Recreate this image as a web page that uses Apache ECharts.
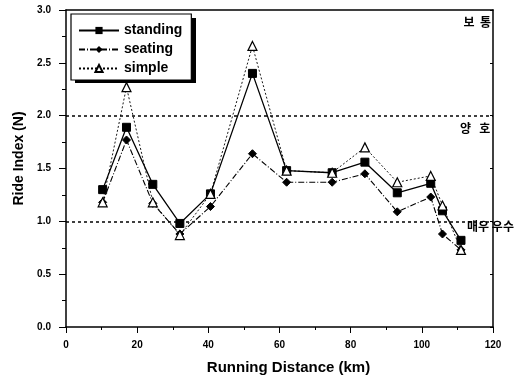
<!DOCTYPE html>
<html><head><meta charset="utf-8">
<script src="https://cdn.jsdelivr.net/npm/echarts@6/dist/echarts.min.js"></script>
<style>html,body{margin:0;padding:0;background:#fff}#c{width:524px;height:380px}</style>
</head><body><div id="c"></div>
<script>
const distance = [10.3, 17.0, 24.4, 32.0, 40.6, 52.4, 62.0, 74.8, 84.0, 93.1, 102.5, 105.8, 111.0];
const standing = [1.30, 1.89, 1.35, 0.98, 1.26, 2.40, 1.48, 1.46, 1.56, 1.27, 1.36, 1.10, 0.82];
const seating  = [1.18, 1.77, 1.17, 0.88, 1.14, 1.64, 1.37, 1.37, 1.45, 1.09, 1.23, 0.88, 0.73];
const simple   = [1.18, 2.27, 1.18, 0.87, 1.26, 2.66, 1.48, 1.46, 1.70, 1.37, 1.43, 1.15, 0.73];
const seriesNames = ['standing', 'seating', 'simple'];
const thresholds = [2.0, 1.0];
const zoneLabels = [
  {text: '보  통', x: 115.6, y: 2.88},
  {text: '양   호', x: 115.0, y: 1.88},
  {text: '매우 우수', x: 119.3, y: 0.95}
];
const pair = arr => arr.map((v, i) => [distance[i], v]);
const font = 'Liberation Sans, Arial, sans-serif';
const chart = echarts.init(document.getElementById('c'));
chart.setOption({
  animation: false,
  backgroundColor: '#fff',
  grid: {left: 66, right: 31, top: 10, bottom: 52, show: false},
  graphic: [{
    type: 'rect', left: 75, top: 18, z: 90, silent: true,
    shape: {width: 121, height: 65}, style: {fill: '#000'}
  }],
  legend: {
    orient: 'vertical', left: 71, top: 14, padding: [8, 9, 3, 7], itemGap: 2,
    itemWidth: 40, itemHeight: 9, itemTextGap: 5, z: 100,
    backgroundColor: '#fff', borderColor: '#000', borderWidth: 1.2,
    textStyle: {fontFamily: font, fontSize: 14, fontWeight: 'bold', color: '#000', lineHeight: 17},
    data: seriesNames
  },
  xAxis: [{
    type: 'value', min: 0, max: 120, interval: 20,
    name: 'Running Distance (km)', nameLocation: 'middle', nameGap: 33,
    nameTextStyle: {fontFamily: font, fontWeight: 'bold', fontSize: 15, color: '#000', padding: [0, 0, 0, 18]},
    axisLine: {lineStyle: {color: '#000', width: 1.5}},
    axisTick: {inside: false, length: 6, lineStyle: {color: '#000'}},
    minorTick: {show: true, splitNumber: 2, length: 3, lineStyle: {color: '#000'}},
    axisLabel: {fontFamily: font, fontWeight: 'bold', fontSize: 10, color: '#000', margin: 13},
    splitLine: {show: false}
  }, {
    type: 'value', min: 0, max: 120, interval: 20, position: 'top',
    axisLine: {onZero: false, lineStyle: {color: '#000', width: 1.5}},
    axisTick: {show: false}, axisLabel: {show: false}, splitLine: {show: false}
  }],
  yAxis: [{
    type: 'value', min: 0, max: 3, interval: 0.5,
    name: 'Ride Index (N)', nameLocation: 'middle', nameGap: 31,
    nameTextStyle: {fontFamily: font, fontWeight: 'bold', fontSize: 14, color: '#000', padding: [0, 0, 0, 20]},
    axisLine: {show: true, lineStyle: {color: '#000', width: 1.5}},
    axisTick: {show: true, inside: false, length: 7, lineStyle: {color: '#000'}},
    minorTick: {show: true, splitNumber: 2, length: 4, lineStyle: {color: '#000'}},
    axisLabel: {fontFamily: font, fontWeight: 'bold', fontSize: 10, color: '#000', margin: 15,
      formatter: v => v.toFixed(1)},
    splitLine: {show: false}
  }, {
    type: 'value', min: 0, max: 3, interval: 0.5, position: 'right',
    axisLine: {show: true, onZero: false, lineStyle: {color: '#000', width: 1.5}},
    axisTick: {show: true, inside: true, length: 3, lineStyle: {color: '#000'}},
    axisLabel: {show: false}, splitLine: {show: false}
  }],
  series: [
    {
      name: 'standing', type: 'line', data: pair(standing),
      symbol: 'rect', symbolSize: 8,
      lineStyle: {color: '#000', width: 1.3, type: 'solid'},
      itemStyle: {color: '#000', borderColor: '#000'},
      markLine: {
        silent: true, symbol: ['none', 'none'], label: {show: false},
        lineStyle: {color: '#000', type: [3, 3], width: 1.5},
        data: thresholds.map(t => ({yAxis: t}))
      },
      markPoint: {
        symbol: 'circle', symbolSize: 0,
        label: {show: true, fontFamily: '"Noto Sans CJK KR"', fontWeight: 'bold', fontSize: 12, color: '#000', formatter: p => p.name},
        data: zoneLabels.map(z => ({name: z.text, coord: [z.x, z.y]}))
      }
    },
    {
      name: 'seating', type: 'line', data: pair(seating),
      symbol: 'diamond', symbolSize: 8,
      lineStyle: {color: '#000', width: 1.1, type: [6, 2, 1, 2]},
      itemStyle: {color: '#000', borderColor: '#000'}
    },
    {
      name: 'simple', type: 'line', data: pair(simple),
      symbol: 'triangle', symbolSize: 9,
      lineStyle: {color: '#000', width: 0.9, type: [2, 2]},
      itemStyle: {color: '#fff', borderColor: '#000', borderWidth: 1.2}
    }
  ]
});
</script></body></html>
